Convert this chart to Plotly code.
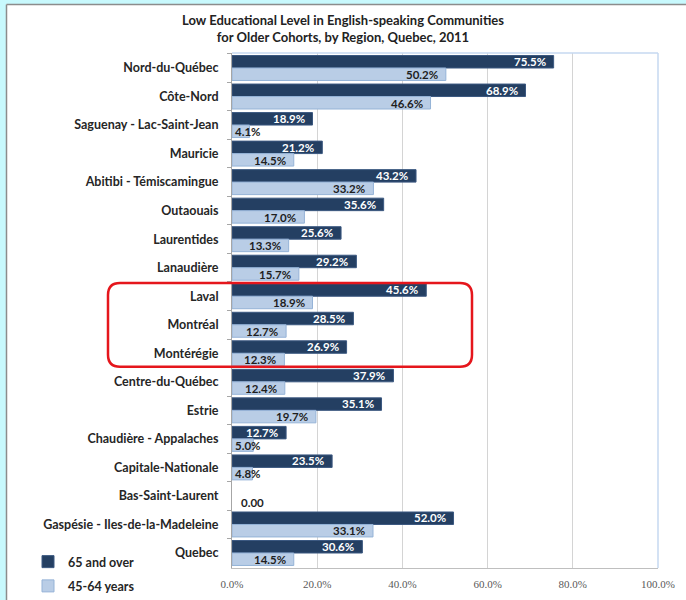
import plotly.graph_objects as go

# Regions, top to bottom
regions = [
    "Nord-du-Québec", "Côte-Nord", "Saguenay - Lac-Saint-Jean", "Mauricie",
    "Abitibi - Témiscamingue", "Outaouais", "Laurentides", "Lanaudière",
    "Laval", "Montréal", "Montérégie", "Centre-du-Québec", "Estrie",
    "Chaudière - Appalaches", "Capitale-Nationale", "Bas-Saint-Laurent",
    "Gaspésie - Iles-de-la-Madeleine", "Quebec",
]
# Share with a low educational level (%)
age_65_over = [75.5, 68.9, 18.9, 21.2, 43.2, 35.6, 25.6, 29.2, 45.6, 28.5,
               26.9, 37.9, 35.1, 12.7, 23.5, None, 52.0, 30.6]
age_45_64 = [50.2, 46.6, 4.1, 14.5, 33.2, 17.0, 13.3, 15.7, 18.9, 12.7,
             12.3, 12.4, 19.7, 5.0, 4.8, 0.0, 33.1, 14.5]
x_ticks = [0, 20, 40, 60, 80, 100]
x_tick_text = [f"{t:.1f}%" for t in x_ticks]
highlight = ["Laval", "Montérégie"]

W, H = 686, 600
ML, MR, MT, MB = 232, 28, 53, 32
PW, PH = W - ML - MR, H - MT - MB

DARK, LIGHT = "#243f62", "#b9cde6"
FONT = "Lato"


def outline(values, w):
    return [0 if (v is None or v == 0) else w for v in values]


fig = go.Figure()
fig.add_bar(y=regions, x=age_65_over, orientation="h", name="65 and over",
            legendgroup="a",
            marker=dict(color=DARK, line=dict(color="#3b5880", width=outline(age_65_over, 1))))
fig.add_bar(y=regions, x=age_45_64, orientation="h", name="45-64 years",
            legendgroup="b",
            marker=dict(color=LIGHT, line=dict(color="#95b3d7", width=outline(age_45_64, 1))))


def px_x(p):
    return (p - ML) / PW


def px_y(p):
    return (H - MB - p) / PH


annotations = []
for series, color, shift in ((age_65_over, "white", 6.5), (age_45_64, "#1e1e1e", -6.5)):
    for reg, v in zip(regions, series):
        if v is None:
            continue
        text = "0.00" if v == 0 else f"{v:.1f}%"
        if v == 0:
            a = dict(x=0, xanchor="left", xshift=7)
        elif v < 8.5:
            a = dict(x=0, xanchor="left", xshift=1)
        else:
            a = dict(x=v, xanchor="right", xshift=-6)
        annotations.append(dict(
            y=reg, yref="y", xref="x", text=f"<b>{text}</b>", showarrow=False,
            yshift=shift, yanchor="middle",
            font=dict(family=FONT, size=11.5, color=color), **a))

# rounded highlight frame around the Montreal-area regions
n = len(regions)
i0, i1 = regions.index(highlight[0]), regions.index(highlight[1])
yt = 1 - i0 / n - 0.002
yb = 1 - (i1 + 1) / n + 0.002
xl, xr = px_x(108), px_x(472)
rx, ry = 12 / PW, 12 / PH
path = (f"M {xl+rx},{yt} L {xr-rx},{yt} Q {xr},{yt} {xr},{yt-ry} "
        f"L {xr},{yb+ry} Q {xr},{yb} {xr-rx},{yb} L {xl+rx},{yb} "
        f"Q {xl},{yb} {xl},{yb+ry} L {xl},{yt-ry} Q {xl},{yt} {xl+rx},{yt} Z")

shapes = [
    # plot frame top / right
    dict(type="line", xref="paper", yref="paper", x0=0, x1=1, y0=1, y1=1,
         line=dict(color="#c6d9f0", width=1.5)),
    dict(type="line", xref="paper", yref="paper", x0=1, x1=1, y0=0, y1=1,
         line=dict(color="#c6d9f0", width=1.5)),
    # page border strip
    dict(type="rect", xref="paper", yref="paper", x0=px_x(0), x1=px_x(6),
         y0=px_y(H), y1=px_y(0), fillcolor="#c8f9fd", line=dict(width=0), layer="above"),
    dict(type="rect", xref="paper", yref="paper", x0=px_x(0), x1=px_x(W),
         y0=px_y(4), y1=px_y(0), fillcolor="#c8f9fd", line=dict(width=0), layer="above"),
    dict(type="line", xref="paper", yref="paper", x0=px_x(6.5), x1=px_x(6.5),
         y0=px_y(H), y1=px_y(4.5), line=dict(color="#8c8c8c", width=1.5)),
    dict(type="line", xref="paper", yref="paper", x0=px_x(6.5), x1=px_x(W),
         y0=px_y(4.5), y1=px_y(4.5), line=dict(color="#8c8c8c", width=1.5)),
    dict(type="path", xref="paper", yref="paper", path=path,
         line=dict(color="#e5161c", width=2.5)),
]

fig.update_layout(
    width=W, height=H,
    margin=dict(l=ML, r=MR, t=MT, b=MB, autoexpand=False),
    paper_bgcolor="white", plot_bgcolor="white",
    barmode="group", bargap=0.125, bargroupgap=0,
    title=dict(
        text="<b>Low Educational Level in English-speaking Communities<br>for Older Cohorts, by Region, Quebec, 2011</b>",
        x=0.5, xref="container", xanchor="center", y=1 - 25 / H, yanchor="middle",
        font=dict(family=FONT, size=13, color="#222222")),
    xaxis=dict(range=[0, 100], tickvals=x_ticks, ticktext=x_tick_text,
               showgrid=True, gridcolor="#d4d4d4", gridwidth=1,
               showline=True, linecolor="#bfbfbf", linewidth=1,
               ticks="", zeroline=False, automargin=False, ticklabelstandoff=6,
               tickfont=dict(family="Liberation Serif", size=11, color="#595959")),
    yaxis=dict(categoryorder="array", categoryarray=regions, autorange="reversed",
               showline=True, linecolor="#a6a6a6", linewidth=1, automargin=False,
               ticks="outside", ticklen=4, tickcolor="#a6a6a6", tickson="boundaries",
               ticklabelstandoff=10,
               tickfont=dict(family=FONT, size=12.5, color="#262626", weight="bold")),
    legend=dict(x=px_x(28), y=px_y(547), xanchor="left", yanchor="top",
                traceorder="grouped", tracegroupgap=5, itemwidth=30,
                font=dict(family=FONT, size=12.5, color="#262626", weight="bold"),
                bgcolor="rgba(0,0,0,0)"),
    annotations=annotations,
    shapes=shapes,
)

fig.write_html("out.html")
